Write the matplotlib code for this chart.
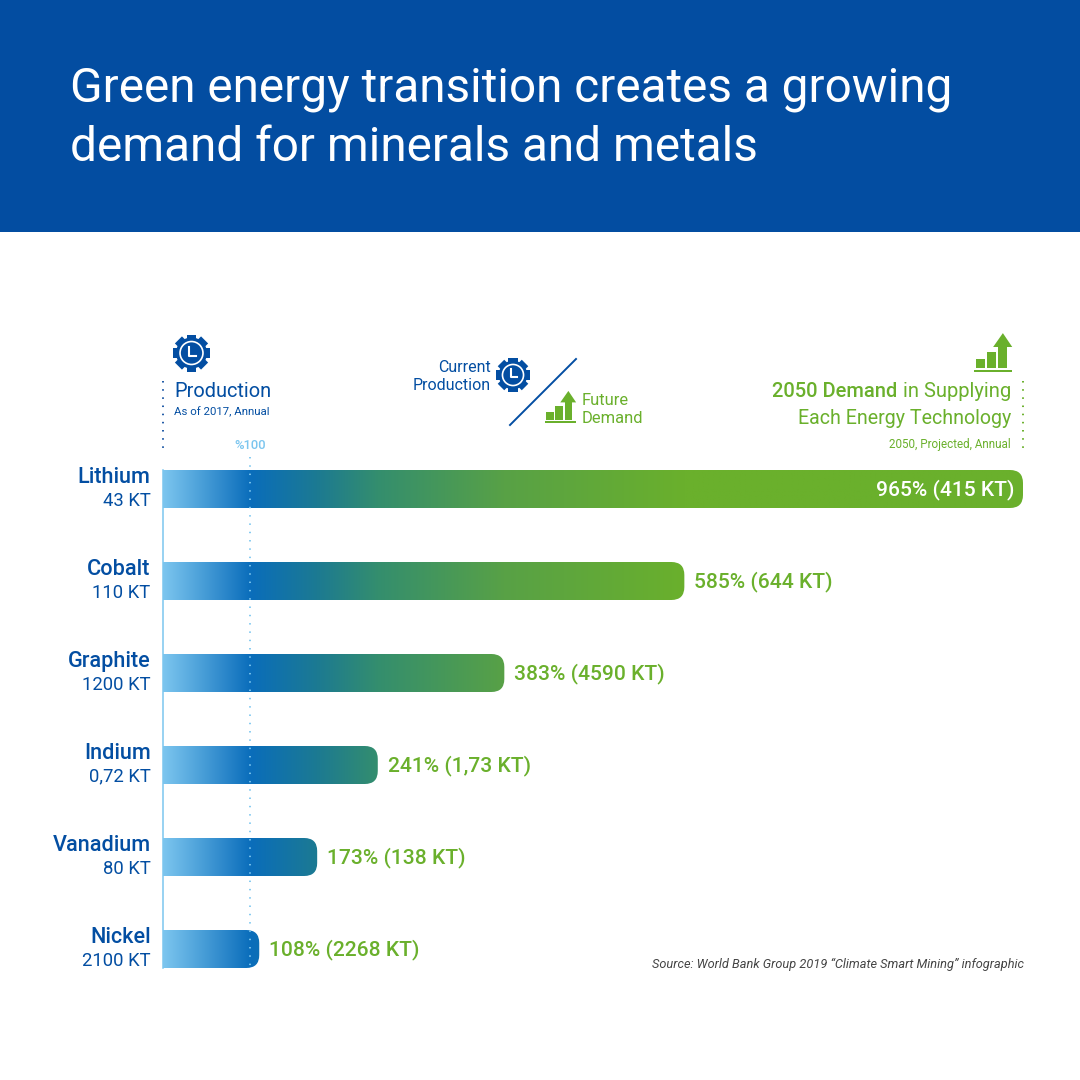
import numpy as np
import matplotlib
matplotlib.use("Agg")
import matplotlib.pyplot as plt
from matplotlib.colors import LinearSegmentedColormap
from matplotlib.patches import Rectangle, Circle, Polygon, PathPatch
from matplotlib.path import Path

minerals = ["Lithium", "Cobalt", "Graphite", "Indium", "Vanadium", "Nickel"]
production = ["43 KT", "110 KT", "1200 KT", "0,72 KT", "80 KT", "2100 KT"]
percent = [965, 585, 383, 241, 173, 108]
demand = ["415 KT", "644 KT", "4590 KT", "1,73 KT", "138 KT", "2268 KT"]
reference_mark = 98

BLUE = "#034EA2"
GREEN = "#6AB02C"
LIGHT = "#7CC6EF"
FONT = "Roboto"
plt.rcParams["font.family"] = [FONT, "DejaVu Sans"]

fig = plt.figure(figsize=(10.8, 10.8), dpi=100, facecolor="white")
P = fig.add_axes([0, 0, 1, 1])
P.set_xlim(0, 1080); P.set_ylim(1080, 0); P.axis("off")


def T(x, y, s, size, color, ha="left", weight="normal", style="normal", va="baseline", family=None):
    return P.text(x, y, s, fontsize=size * 0.72, color=color, ha=ha, va=va,
                  fontweight=weight, fontstyle=style, family=family or FONT)


# header
P.add_patch(Rectangle((0, 0), 1080, 232, color="#034DA1", lw=0))
T(70, 101, "Green energy transition creates a growing", 47.8, "white")
T(70, 161, "demand for minerals and metals", 47.8, "white")


def gear(cx, cy, r):
    for a in np.arange(0, 360, 45):
        th = np.deg2rad(a)
        u = np.array([np.cos(th), np.sin(th)]); v = np.array([-u[1], u[0]])
        c = np.array([cx, cy])
        w = r * 0.27
        pts = [c + u * r * 0.7 - v * w, c + u * r - v * w, c + u * r + v * w, c + u * r * 0.7 + v * w]
        P.add_patch(Polygon(pts, color=BLUE, lw=0, zorder=3))
    P.add_patch(Circle((cx, cy), r * 0.84, color=BLUE, lw=0, zorder=3))
    P.add_patch(Circle((cx, cy), r * 0.62, fc="none", ec="white", lw=1.2, zorder=4))
    P.plot([cx - r * .12, cx - r * .12, cx + r * .24], [cy - r * .34, cy + r * .14, cy + r * .14],
           color="white", lw=1.5, zorder=5)


def chart(x0, base, s):
    P.add_patch(Rectangle((x0, base), s, s * .06, color=GREEN, lw=0))
    P.add_patch(Rectangle((x0 + s * .05, base - s * .28), s * .25, s * .25, color=GREEN, lw=0))
    P.add_patch(Rectangle((x0 + s * .34, base - s * .47), s * .25, s * .44, color=GREEN, lw=0))
    P.add_patch(Rectangle((x0 + s * .65, base - s * .68), s * .24, s * .65, color=GREEN, lw=0))
    P.add_patch(Polygon([(x0 + s * .51, base - s * .6), (x0 + s * .77, base - s * .97), (x0 + s * 1.02, base - s * .6)],
                        color=GREEN, lw=0))


# key, left
gear(191.5, 353, 18.5)
T(174, 397, "Production", 20, BLUE)
T(174, 415, "As of 2017, Annual", 11.4, BLUE)
P.plot([163, 163], [381, 448], color="#1F5AA6", lw=1.4, ls=(0, (0.8, 3.4)))
T(250, 449, "%100", 13, LIGHT, ha="center", weight="medium")

# key, centre
T(491, 372, "Current", 16, BLUE, ha="right")
T(491, 390, "Production", 16, BLUE, ha="right")
gear(513, 375, 17)
P.plot([510, 576], [425, 359], color=BLUE, lw=1.4)
chart(544.5, 421, 31)
T(582, 405, "Future", 16.5, GREEN)
T(582, 423, "Demand", 16.5, GREEN)

# key, right
chart(974, 369.5, 37.5)
t = T(1011, 397, " in Supplying", 20.1, GREEN, ha="right")
fig.canvas.draw()
bb = t.get_window_extent()
T(bb.x0, 397, "2050 Demand", 20.1, GREEN, ha="right", weight="medium")
T(1011, 424, "Each Energy Technology", 19.6, GREEN, ha="right")
T(1011, 448, "2050, Projected, Annual", 11.6, GREEN, ha="right")
P.plot([1023, 1023], [381, 448], color=GREEN, lw=1.4, ls=(0, (0.8, 3.4)))

# bars: x axis maps 0-965 % onto pixels 163-1023, each category is 92 px tall
L, R, TOP, BOT = 163, 1023, 443, 995
ax = fig.add_axes([L / 1080, 1 - BOT / 1080, (R - L) / 1080, (BOT - TOP) / 1080])
ax.patch.set_alpha(0)
ax.set_xlim(0, max(percent))
y0 = (489 - TOP) / 92
ax.set_ylim((BOT - TOP) / 92 - y0, -y0)
ax.axis("off")

stops = [(0, "#7CC6EF"), (reference_mark, "#0A6DBB"), (173, "#1C7A92"), (241, "#348E6E"),
         (383, "#58A146"), (585, "#6AB02C"), (965, "#6AB02C")]
cmap = LinearSegmentedColormap.from_list("g", [(v / 965, c) for v, c in stops], N=1024)
grad = np.linspace(0, 1, 1024).reshape(1, -1)
hh = 19 / 92
rx, ry = 13 * 965 / 860, 13 / 92
for i, (m, prod, p, d) in enumerate(zip(minerals, production, percent, demand)):
    verts = [(0, i - hh), (p - rx, i - hh), (p, i - hh), (p, i - hh + ry), (p, i + hh - ry),
             (p, i + hh), (p - rx, i + hh), (0, i + hh), (0, i - hh)]
    codes = [Path.MOVETO, Path.LINETO, Path.CURVE3, Path.CURVE3, Path.LINETO,
             Path.CURVE3, Path.CURVE3, Path.LINETO, Path.CLOSEPOLY]
    shape = PathPatch(Path(verts, codes), fc="none", ec="none", transform=ax.transData)
    ax.add_patch(shape)
    im = ax.imshow(grad, extent=(0, 965, i + hh, i - hh), aspect="auto", cmap=cmap, vmin=0, vmax=1,
                   interpolation="bilinear", zorder=2)
    im.set_clip_path(shape)
    ax.annotate(m, (0, i), xytext=(-12.5 * .72, 6 * .72), textcoords="offset points", ha="right", va="baseline",
                fontsize=21.6 * .72, color=BLUE, fontweight="medium", annotation_clip=False)
    ax.annotate(prod, (0, i), xytext=(-12.5 * .72, -16.5 * .72), textcoords="offset points", ha="right", va="baseline",
                fontsize=18.5 * .72, color=BLUE, annotation_clip=False)
    lab = f"{p}% ({d})"
    if i == 0:
        ax.annotate(lab, (p, i), xytext=(-9 * .72, -6 * .72), textcoords="offset points", ha="right",
                    va="baseline", fontsize=21 * .72, color="white", fontweight="medium", zorder=6)
    else:
        ax.annotate(lab, (p, i), xytext=(10 * .72, -6 * .72), textcoords="offset points", ha="left",
                    va="baseline", fontsize=21 * .72, color=GREEN, fontweight="medium", zorder=6)

ax.set_xlim(0, max(percent))
ax.set_ylim((BOT - TOP) / 92 - y0, -y0)
ax.plot([0, 0], [-hh, len(percent) - 1 + hh], color=LIGHT, lw=1.1, zorder=1, clip_on=False)
ax.plot([reference_mark] * 2, [-32 / 92, len(percent) - 1 + hh], color=LIGHT, lw=1.3, ls=(0, (0.8, 3.8)), zorder=5, clip_on=False)

T(1024, 968, "Source: World Bank Group 2019 \u201cClimate Smart Mining\u201d infographic", 12.8, "#444444",
  ha="right", style="italic")

fig.savefig("out.png", dpi=100)
